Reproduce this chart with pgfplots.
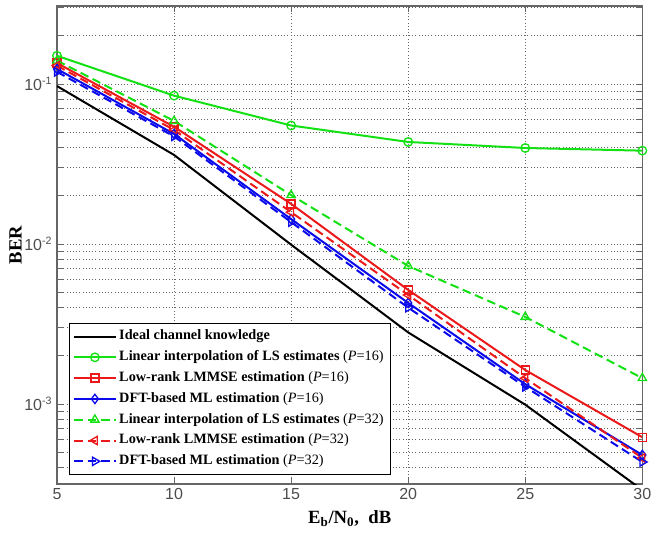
\documentclass[border=0pt]{standalone}
\usepackage{fontspec}
\setmainfont{Liberation Serif}
\setsansfont{Liberation Sans}
\usepackage{pgfplots}
\pgfplotsset{compat=1.18}

\definecolor{mgreen}{RGB}{20,225,20}
\definecolor{mred}{RGB}{235,25,25}
\definecolor{mblue}{RGB}{10,10,235}

\begin{document}
\begin{tikzpicture}
\begin{axis}[
  name=ax,
  scale only axis, width=439pt, height=358.5pt,
  ymode=log,
  xmin=5, xmax=30, ymin=3.1623e-4, ymax=0.307,
  xtick={5,10,15,20,25,30},
  xticklabels={5,10,15,20,25,30},
  ytick={1e-3,1e-2,1e-1},
  yticklabels={10\textsuperscript{-3},10\textsuperscript{-2},10\textsuperscript{-1}},
  minor ytick={4e-4,5e-4,6e-4,7e-4,8e-4,9e-4,
    2e-3,3e-3,4e-3,5e-3,6e-3,7e-3,8e-3,9e-3,
    2e-2,3e-2,4e-2,5e-2,6e-2,7e-2,8e-2,9e-2,0.2,0.3},
  xmajorgrids, ymajorgrids, yminorgrids,
  major grid style={dotted, black!60, line width=0.6pt},
  minor grid style={dotted, black!60, line width=0.6pt},
  axis line style={black!60, line width=0.8pt},
  tick style={black!60, line width=0.6pt},
  major tick length=4.5pt, minor tick length=4.5pt,
  tick label style={font=\sffamily\fontsize{12}{14}\selectfont, text=black!70},
  xlabel={\bfseries E\textsubscript{b}/N\textsubscript{0},\enspace dB},
  ylabel={\bfseries BER},
  label style={font=\fontsize{14}{16}\selectfont},
  xlabel style={at={(axis description cs:0.5,-0.072)}, anchor=center},
  ylabel style={at={(axis description cs:-0.071,0.5)}, anchor=center},
  legend cell align=left,
  legend style={at={(axis description cs:0.02,0.019)}, anchor=south west,
    draw=black, line width=0.8pt, fill=white,
    font=\fontsize{10.7}{12.5}\selectfont,
    nodes={inner ysep=2.6pt, text height=7.8pt, text depth=2.6pt}},
  legend image code/.code={\draw[mark repeat=2,mark phase=2,#1] plot coordinates {(0pt,0pt) (15.5pt,0pt) (31pt,0pt)};},
]
\addplot[black, line width=1.5pt] coordinates {(5,0.097) (10,0.036) (15,0.0099) (20,0.0028) (25,0.00099) (30,0.00029)};
\addlegendentry{\textbf{Ideal channel knowledge}}
\addplot[mgreen, line width=1.5pt, mark=o, mark size=3.2pt, mark options={solid, line width=1pt}] coordinates {(5,0.150) (10,0.0845) (15,0.055) (20,0.0434) (25,0.0398) (30,0.0383)};
\addlegendentry{\textbf{Linear interpolation of LS estimates} (\textit{P}=16)}
\addplot[mred, line width=1.5pt, mark=square, mark size=3pt, mark options={solid, line width=1pt}] coordinates {(5,0.135) (10,0.054) (15,0.0178) (20,0.00516) (25,0.00163) (30,0.00062)};
\addlegendentry{\textbf{Low-rank LMMSE estimation} (\textit{P}=16)}
\addplot[mblue, line width=1.5pt, mark=diamond, mark size=3.5pt, mark options={solid, line width=1pt}] coordinates {(5,0.124) (10,0.0487) (15,0.0143) (20,0.00428) (25,0.00133) (30,0.00048)};
\addlegendentry{\textbf{DFT-based ML estimation} (\textit{P}=16)}
\addplot[mgreen, line width=1.5pt, dash pattern=on 6.5pt off 3.5pt, mark=triangle, mark size=3.6pt, mark options={solid, line width=1pt}] coordinates {(5,0.140) (10,0.0587) (15,0.0202) (20,0.00729) (25,0.0035) (30,0.00145)};
\addlegendentry{\textbf{Linear interpolation of LS estimates} (\textit{P}=32)}
\addplot[mred, line width=1.5pt, dash pattern=on 6.5pt off 3.5pt, mark=triangle, mark size=3.6pt, mark options={solid, line width=1pt, rotate=90}] coordinates {(5,0.130) (10,0.0516) (15,0.0158) (20,0.0048) (25,0.00145) (30,0.00046)};
\addlegendentry{\textbf{Low-rank LMMSE estimation} (\textit{P}=32)}
\addplot[mblue, line width=1.5pt, dash pattern=on 6.5pt off 3.5pt, mark=triangle, mark size=3.6pt, mark options={solid, line width=1pt, rotate=-90}] coordinates {(5,0.119) (10,0.047) (15,0.0137) (20,0.0040) (25,0.00128) (30,0.000434)};
\addlegendentry{\textbf{DFT-based ML estimation} (\textit{P}=32)}
\end{axis}
\pgfresetboundingbox
\path[use as bounding box] ([shift={(-42.75pt,-37.5pt)}]ax.south west) rectangle ([shift={(8pt,4.5pt)}]ax.north east);
\end{tikzpicture}
\end{document}
